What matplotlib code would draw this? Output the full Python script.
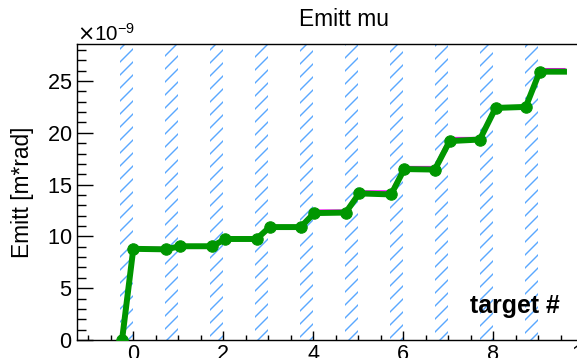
import matplotlib
matplotlib.use('Agg')
import matplotlib.pyplot as plt
from matplotlib.ticker import MultipleLocator

# emittance vs target number (values in m*rad)
x_pts = [-0.25, 0.0, 0.72, 1.04, 1.76, 2.04, 2.74, 3.03, 3.72, 4.02, 4.72,
         5.02, 5.73, 6.02, 6.70, 7.03, 7.70, 8.05, 8.72, 9.03, 9.57]
emitt_green = [0.0, 8.8, 8.75, 9.05, 9.05, 9.75, 9.75, 10.9, 10.9, 12.25, 12.3,
               14.15, 14.05, 16.5, 16.45, 19.2, 19.35, 22.4, 22.5, 25.9, 25.9]
emitt_magenta = [0.0, 8.85, 8.85, 9.1, 9.1, 9.8, 9.8, 10.95, 10.95, 12.45, 12.45,
                 14.3, 14.3, 16.65, 16.65, 19.45, 19.45, 22.5, 22.5, 26.1, 26.1]
emitt_green = [v * 1e-9 for v in emitt_green]
emitt_magenta = [v * 1e-9 for v in emitt_magenta]

# hatched regions (target positions)
band_lo = [-0.3, 0.7, 1.7, 2.7, 3.7, 4.7, 5.7, 6.7, 7.7, 8.7]
band_hi = [0.0, 1.0, 2.0, 3.0, 4.0, 5.0, 6.0, 7.0, 8.0, 9.0]

plt.rcParams['font.family'] = ['Liberation Sans', 'DejaVu Sans']
plt.rcParams['hatch.linewidth'] = 1.3

DPI = 78
fig = plt.figure(figsize=(577 / DPI, 358 / DPI), dpi=DPI)
ax = fig.add_axes([77.3 / 577, 18 / 358, (600 - 77.3) / 577, (340 - 43.7) / 358])

for lo, hi in zip(band_lo, band_hi):
    ax.axvspan(lo, hi, facecolor='none', edgecolor='#5aa8ff', hatch='//',
               linewidth=0, zorder=1)

ax.plot(x_pts, emitt_magenta, color='#ff00ff', linewidth=3, zorder=2)
ax.plot(x_pts, emitt_green, color='#009600', linewidth=5.5, marker='o',
        markersize=10.5, markevery=list(range(len(x_pts) - 1)), zorder=3)

ax.set_xlim(-1.244, 10.37)
ax.set_ylim(0, 28.6e-9)

ax.xaxis.set_major_locator(MultipleLocator(2))
ax.xaxis.set_minor_locator(MultipleLocator(0.5))
ax.yaxis.set_major_locator(MultipleLocator(5e-9))
ax.yaxis.set_minor_locator(MultipleLocator(1e-9))

ax.ticklabel_format(axis='y', style='sci', scilimits=(-9, -9), useMathText=True)
ax.yaxis.get_offset_text().set_fontsize(19)

ax.tick_params(which='both', direction='in', labelsize=20, width=1.3, colors='black')
ax.tick_params(axis='y', which='major', length=15, pad=5)
ax.tick_params(axis='y', which='minor', length=8)
ax.tick_params(axis='x', which='major', length=8, pad=4)
ax.tick_params(axis='x', which='minor', length=5)
ax.tick_params(top=False, right=False)

for s in ['left', 'bottom', 'top']:
    ax.spines[s].set_linewidth(1.3)
ax.spines['right'].set_visible(False)

ax.set_ylabel('Emitt [m*rad]', fontsize=21)
ax.yaxis.set_label_coords(-43 / 522.7, 0.5)

fig.text(344 / 577, 1 - 19 / 358, 'Emitt mu', fontsize=21, ha='center', va='center')
fig.text(560 / 577, 1 - 313 / 358, 'target #', fontsize=23, fontweight='bold',
         ha='right', va='baseline')

fig.savefig('out.png', dpi=DPI)
